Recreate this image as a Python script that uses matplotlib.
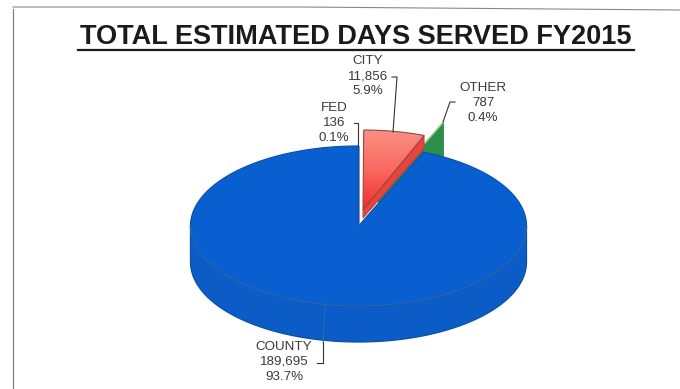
import numpy as np
import matplotlib
matplotlib.use("Agg")
import matplotlib.pyplot as plt
from matplotlib.patches import Polygon

plt.rcParams['font.family'] = ['Liberation Sans', 'DejaVu Sans']

categories = ["FED", "CITY", "OTHER", "COUNTY"]
days = [136, 11856, 787, 189695]
days_text = ["136", "11,856", "787", "189,695"]
percent_text = ["0.1%", "5.9%", "0.4%", "93.7%"]
title = "TOTAL ESTIMATED DAYS SERVED FY2015"

# pie geometry in pixels
cx, cy = 358.5, 226
rx, ry = 168, 80
depth = 36

# slices run clockwise from 12 o'clock
fractions = np.array(days) / sum(days)
edges = np.concatenate([[0], np.cumsum(fractions)]) * 2 * np.pi


def rim(a0, a1, dx=0, dy=0, n=200):
    a = np.linspace(a0, a1, n)
    return np.column_stack([cx + dx + rx * np.sin(a), cy + dy - ry * np.cos(a)])


def top_face(a0, a1, dx=0, dy=0):
    return np.vstack([[cx + dx, cy + dy], rim(a0, a1, dx, dy)])


fig = plt.figure(figsize=(6.8, 3.89), dpi=100)
ax = fig.add_axes([0, 0, 1, 1])
ax.set_xlim(0, 680)
ax.set_ylim(389, 0)
ax.axis("off")

# page frame
ax.plot([13, 13], [389, 9], color="#777777", lw=0.8)
ax.plot([13, 300, 680], [7, 7, 10], color="#888888", lw=0.8)

# OTHER, pulled far out so only its cut side shows behind the county slice
a_other = edges[3]
ox, oy = 20, -30
end = rim(edges[2], a_other, ox, oy)[-1]
apex = [cx + ox, cy + oy]
ax.add_patch(Polygon([apex, end, end + [0, depth], [apex[0], apex[1] + depth]],
                     fc="#2a9049", ec="#2b7d45", lw=0.6, zorder=2))
ax.plot([apex[0], end[0]], [apex[1], end[1]], color="#9ccf8c", lw=1.0, zorder=2)

# COUNTY, side wall then top face
a0, a1 = edges[3], edges[4]
lower = rim(np.pi / 2, 3 * np.pi / 2)
side = np.vstack([lower, (lower + [0, depth])[::-1]])
ax.add_patch(Polygon(side, fc="#0c5cc8", ec="#0c4fa8", lw=0.9, zorder=3))
ax.add_patch(Polygon(top_face(a0, a1), fc="#0a5fd0", ec="#0b52b0", lw=0.9, zorder=4))
ax.plot(lower[:, 0], lower[:, 1], color="#2f68b0", lw=0.8, zorder=5)

# FED is only a sliver of bare paper beside the county edge
ax.plot([cx, cx], [cy - 2, cy - ry], color="#8a8a8a", lw=0.6, zorder=5)

# CITY, lifted out with a shaded cut side and a gradient on top
dx, dy = 4.5, -16
a0, a1 = edges[1], edges[2]
face = top_face(a0, a1, dx, dy)
outer = rim(a0, a1, dx, dy)[-1]
cut = [[cx + dx, cy + dy], outer, outer + [0, 13], [cx + dx, cy + dy + 8]]
ax.add_patch(Polygon(cut, fc="#e8443f", ec="#b03a35", lw=0.6, zorder=6))
patch = Polygon(face, fc="none", ec="#8f4a45", lw=0.8, zorder=8)
ax.add_patch(patch)
shade = np.linspace(0, 1, 64).reshape(-1, 1)
cmap = matplotlib.colors.LinearSegmentedColormap.from_list("city", ["#fb9085", "#f96a60", "#f22c2c"])
img = ax.imshow(shade, cmap=cmap, extent=[cx + dx, outer[0] + 1, cy + dy, cy + dy - ry - 1],
                aspect="auto", zorder=7)
img.set_clip_path(Polygon(face, transform=ax.transData))
ax.set_xlim(0, 680)
ax.set_ylim(389, 0)

# title with its rule
ax.text(356, 37, title, ha="center", va="center", fontsize=19.5, fontweight="bold", color="#1a1a1a")
ax.plot([78, 634], [50, 50], color="#1a1a1a", lw=1.6)

# slice labels and their leaders
label_x = [334, 368, 483, 284]
label_y = [108, 61, 88, 347]
leaders = [
    ([354, 358, 358], [123, 123, 146]),
    ([392, 397, 393], [77, 77, 132]),
    ([455, 450, 443], [102, 102, 122]),
    ([317, 323, 323], [363, 363, 342]),
]
for i in range(len(categories)):
    lines = [categories[i], days_text[i], percent_text[i]]
    for j in range(3):
        ax.text(label_x[i], label_y[i] + j * 15, lines[j], ha="center", va="center",
                fontsize=9.6, color="#3a3a3a", zorder=9)
    ax.plot(leaders[i][0], leaders[i][1], color="#333333", lw=0.8, zorder=9)
ax.plot([325, 323], [306, 342], color="#2f68b0", lw=0.7, zorder=5)

fig.savefig("out.png", dpi=100)
